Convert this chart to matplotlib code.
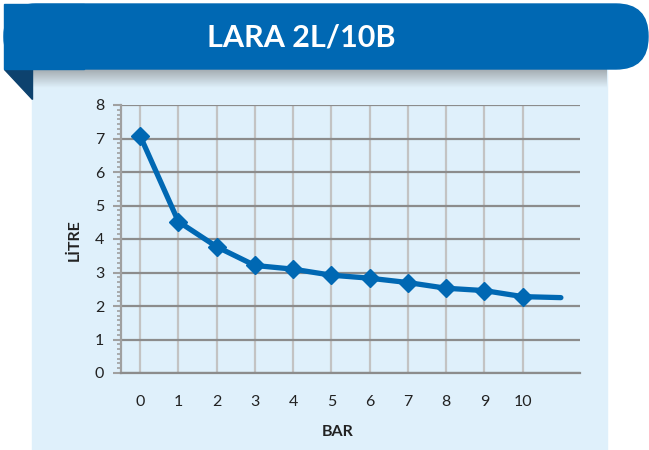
import numpy as np
from matplotlib import pyplot as plt
from matplotlib import ticker
from matplotlib.patches import Rectangle, Polygon, FancyBboxPatch

bar = [0, 1, 2, 3, 4, 5, 6, 7, 8, 9, 10, 11]
litre = [7.08, 4.52, 3.77, 3.21, 3.10, 2.92, 2.83, 2.70, 2.53, 2.46, 2.28, 2.25]
x_ticks = [0, 1, 2, 3, 4, 5, 6, 7, 8, 9, 10]
y_ticks = [0, 1, 2, 3, 4, 5, 6, 7, 8]
title = "LARA 2L/10B"

W, H = 649, 450
blue = "#0068b3"
panel = "#dff0fb"
font = "Lato"

fig = plt.figure(figsize=(W / 100, H / 100), dpi=100)
fig.patch.set_facecolor("white")

# background decoration in pixel coordinates
bg = fig.add_axes([0, 0, 1, 1])
bg.set_xlim(0, W)
bg.set_ylim(H, 0)
bg.axis("off")
bg.add_patch(Rectangle((32, 60), 575, 400, color=panel, zorder=1))
shade = np.linspace(0.55, 0, 40).reshape(-1, 1)
bg.imshow(np.dstack([np.full_like(shade, 0.45)] * 3 + [shade]),
          extent=(32, 607, 88, 69), aspect="auto", zorder=2)
bg.add_patch(Polygon([(4, 69), (32, 69), (32, 99)], closed=True,
                     color="#0d426e", zorder=3))
bg.add_patch(FancyBboxPatch((4, 4), 644, 65, boxstyle="round,pad=0,rounding_size=32",
                            color=blue, zorder=4))
bg.add_patch(Rectangle((4, 4), 80, 65, color=blue, zorder=4))
bg.text(301, 38, title, color="white", fontsize=22, fontweight="bold",
        family=font, ha="center", va="center", zorder=5)
bg.set_xlim(0, W)
bg.set_ylim(H, 0)

ax = fig.add_axes([121 / W, 1 - 373 / H, (580 - 121) / W, (373 - 105) / H])
ax.set_facecolor("none")
ax.plot(bar, litre, color=blue, lw=3.8, marker="D", markersize=9,
        markevery=list(range(11)), solid_capstyle="round", zorder=5, clip_on=False)

ax.set_xlim(-0.5, 11.5)
ax.set_ylim(0, 8)
ax.set_xticks(x_ticks)
ax.set_xticklabels([str(v) for v in x_ticks])
ax.set_yticks(y_ticks)
ax.yaxis.set_minor_locator(ticker.MultipleLocator(1 / 7))
ax.grid(axis="y", color="#8c8c8c", lw=1.6)
ax.grid(axis="x", color="#c3c3c3", lw=1.6)
ax.set_axisbelow(True)
for s in ["top", "right"]:
    ax.spines[s].set_visible(False)
ax.spines["left"].set_color("#a0a0a0")
ax.spines["left"].set_linewidth(1.6)
ax.spines["bottom"].set_color("#8c8c8c")
ax.spines["bottom"].set_linewidth(1.6)
ax.tick_params(axis="x", length=0, pad=16, labelsize=11.5, labelcolor="#222222")
ax.tick_params(axis="y", which="major", length=6, width=1.5, color="#a0a0a0",
               pad=6, labelsize=11.5, labelcolor="#222222")
ax.tick_params(axis="y", which="minor", length=3, width=1.2, color="#a0a0a0")
for lab in ax.get_xticklabels() + ax.get_yticklabels():
    lab.set_family(font)

fig.text(75 / W, 1 - 240 / H, "LİTRE", rotation=90, ha="center", va="center",
         fontsize=11.5, fontweight="bold", family=font, color="#222222")
fig.text(338 / W, 1 - 432 / H, "BAR", ha="center", va="center",
         fontsize=11.5, fontweight="bold", family=font, color="#222222")

fig.savefig("out.png", dpi=100)
